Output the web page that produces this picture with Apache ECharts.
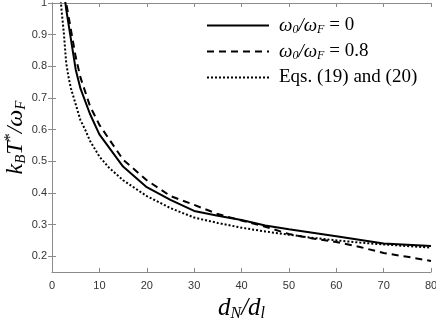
<!DOCTYPE html>
<html>
<head>
<meta charset="utf-8">
<script src="https://cdn.jsdelivr.net/npm/echarts@6/dist/echarts.min.js"></script>
<style>
  html, body { margin: 0; padding: 0; background: #fff; }
  #chart { width: 436px; height: 326px; }
</style>
</head>
<body>
<div id="chart"></div>
<script>
// values
var solidX = [2.5, 3, 4, 5, 6, 8, 10, 15, 20, 25, 30, 35, 40, 45, 50, 60, 70, 80];
var solidY = [1.04, 0.98, 0.885, 0.79, 0.73, 0.65, 0.585, 0.483, 0.418, 0.378, 0.343, 0.328, 0.314, 0.297, 0.285, 0.263, 0.24, 0.232];

var dashX = [2.6, 3, 4, 5, 6, 8, 10, 15, 20, 25, 30, 35, 40, 45, 50, 55, 60, 65, 70, 75, 80];
var dashY = [1.03, 1.0, 0.915, 0.83, 0.765, 0.675, 0.615, 0.505, 0.44, 0.39, 0.362, 0.333, 0.313, 0.293, 0.27, 0.256, 0.245, 0.229, 0.21, 0.198, 0.185];

var dotX = [1.8, 2, 2.5, 3, 3.5, 4, 5, 6, 7, 8, 10, 12, 15, 20, 25, 30, 35, 40, 45, 50, 55, 60, 65, 70, 75, 80];
var dotY = [1.02, 0.98, 0.905, 0.81, 0.765, 0.73, 0.68, 0.63, 0.6, 0.565, 0.515, 0.48, 0.44, 0.39, 0.352, 0.322, 0.305, 0.29, 0.278, 0.268, 0.258, 0.25, 0.243, 0.237, 0.232, 0.227];

var xTicks = [0, 10, 20, 30, 40, 50, 60, 70, 80];
var yTicks = [0.2, 0.3, 0.4, 0.5, 0.6, 0.7, 0.8, 0.9, 1];

var names = ['w0 = 0', 'w0 = 0.8', 'Eqs. (19) and (20)'];
var legendText = {
  'w0 = 0': '{i|ω}{s|0}{i|/ω}{s|F}{t| = 0}',
  'w0 = 0.8': '{i|ω}{s|0}{i|/ω}{s|F}{t| = 0.8}',
  'Eqs. (19) and (20)': '{t|Eqs. (19) and (20)}'
};

function pairs(xs, ys) {
  return xs.map(function (x, i) { return [x, ys[i]]; });
}

var axisGray = '#8a8a8a';
var serif = 'Liberation Serif';

var chart = echarts.init(document.getElementById('chart'));

var option = {
  animation: false,
  backgroundColor: '#fff',
  grid: { left: 52, right: 5, top: 3, bottom: 54, containLabel: false, outerBoundsMode: 'none' },
  legend: {
    orient: 'vertical',
    left: 201,
    top: 11,
    itemWidth: 62,
    itemHeight: 20,
    itemGap: 6.5,
    data: names,
    itemStyle: { color: 'transparent', borderWidth: 0, opacity: 0 },
    formatter: function (n) { return legendText[n]; },
    textStyle: {
      padding: [0, 0, 0, 5],
      rich: {
        i: { fontFamily: serif, fontStyle: 'italic', fontSize: 19, color: '#000', lineHeight: 20 },
        s: { fontFamily: serif, fontStyle: 'italic', fontSize: 12, color: '#000', verticalAlign: 'bottom', lineHeight: 20 },
        t: { fontFamily: serif, fontSize: 19, color: '#000', lineHeight: 20 }
      }
    }
  },
  xAxis: [{
    type: 'value',
    min: 0, max: 80, interval: 10,
    name: '{i|d}{s|N}{i|/d}{s|l}',
    nameLocation: 'middle',
    nameGap: 22,
    nameTextStyle: {
      rich: {
        i: { fontFamily: serif, fontStyle: 'italic', fontSize: 25, color: '#000', lineHeight: 26 },
        s: { fontFamily: serif, fontStyle: 'italic', fontSize: 16, color: '#000', verticalAlign: 'bottom', lineHeight: 26 }
      }
    },
    axisLine: { show: true, lineStyle: { color: axisGray, width: 1 } },
    axisTick: { inside: true, length: 4, lineStyle: { color: axisGray } },
    axisLabel: { margin: 8, color: '#333', fontSize: 11, fontFamily: 'Liberation Sans',
      customValues: xTicks },
    splitLine: { show: false }
  }, {
    type: 'value',
    position: 'top',
    min: 0, max: 80, interval: 10,
    axisLine: { show: true, lineStyle: { color: axisGray, width: 1 } },
    axisTick: { inside: true, length: 4, lineStyle: { color: axisGray } },
    axisLabel: { show: false },
    splitLine: { show: false }
  }],
  yAxis: [{
    type: 'value',
    min: 0.15, max: 1,
    name: '{i|k}{s|B}{i|T}{u|*}{i|/ω}{s|F}',
    nameLocation: 'middle',
    nameGap: 23,
    nameRotate: 90,
    nameMoveOverlap: false,
    nameTextStyle: {
      rich: {
        i: { fontFamily: serif, fontStyle: 'italic', fontSize: 24, color: '#000', lineHeight: 26 },
        s: { fontFamily: serif, fontStyle: 'italic', fontSize: 15, color: '#000', verticalAlign: 'bottom', lineHeight: 26 },
        u: { fontFamily: serif, fontSize: 16, color: '#000', verticalAlign: 'top', lineHeight: 26 }
      }
    },
    axisLine: { show: true, lineStyle: { color: axisGray, width: 1 } },
    axisTick: { inside: true, length: 4, lineStyle: { color: axisGray }, customValues: yTicks },
    axisLabel: { margin: 5, color: '#333', fontSize: 11, fontFamily: 'Liberation Sans',
      customValues: yTicks,
      formatter: function (v) { return v === 1 ? '1' : v.toFixed(1); } },
    splitLine: { show: false }
  }, {
    type: 'value',
    position: 'right',
    min: 0.15, max: 1,
    axisLine: { show: true, lineStyle: { color: axisGray, width: 1 } },
    axisTick: { inside: true, length: 4, lineStyle: { color: axisGray }, customValues: yTicks },
    axisLabel: { show: false, customValues: yTicks },
    splitLine: { show: false }
  }],
  series: [{
    name: names[0],
    type: 'line',
    symbol: 'none',
    clip: true,
    data: pairs(solidX, solidY),
    lineStyle: { color: '#000', width: 2, type: 'solid' },
    itemStyle: { color: '#000' }
  }, {
    name: names[1],
    type: 'line',
    symbol: 'none',
    clip: true,
    data: pairs(dashX, dashY),
    lineStyle: { color: '#000', width: 2, type: [7, 5] },
    itemStyle: { color: '#000' }
  }, {
    name: names[2],
    type: 'line',
    symbol: 'none',
    clip: true,
    data: pairs(dotX, dotY),
    lineStyle: { color: '#000', width: 2, type: [2, 2] },
    itemStyle: { color: '#000' }
  }]
};

chart.setOption(option);
</script>
</body>
</html>
